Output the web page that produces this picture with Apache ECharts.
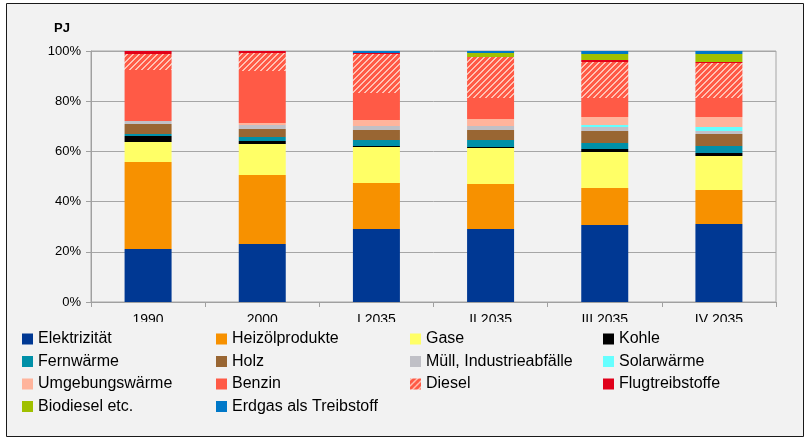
<!DOCTYPE html>
<html>
<head>
<meta charset="utf-8">
<title>Endenergie nach Energieträgern</title>
<script src="https://cdn.jsdelivr.net/npm/echarts@6/dist/echarts.min.js"></script>
<style>
  html, body { margin: 0; padding: 0; background: #ffffff; }
  #chart { width: 806px; height: 439px; }
</style>
</head>
<body>
<div id="chart"></div>
<script>
// Kategorien (Jahre / Szenarien)
const categories = ['1990', '2000', 'I 2035', 'II 2035', 'III 2035', 'IV 2035'];
const yTicks = [0, 20, 40, 60, 80, 100];

// Anteile in % je Energieträger
const elektrizitaet = [21.1, 23.1, 29.1, 29.1, 30.7, 31.1];
const heizoel = [34.7, 27.5, 18.3, 17.9, 14.7, 13.5];
const gase = [7.9, 12.3, 14.4, 14.4, 14.4, 13.6];
const kohle = [2.4, 1.2, 0.4, 0.4, 1.2, 1.2];
const fernwaerme = [0.8, 1.6, 2.3, 2.7, 2.3, 2.8];
const holz = [4.0, 3.2, 4.0, 4.0, 4.8, 4.7];
const muell = [1.2, 1.6, 1.6, 1.6, 1.6, 1.2];
const solarwaerme = [0, 0, 0, 0, 0.8, 1.6];
const umgebungswaerme = [0, 0.8, 2.4, 2.8, 3.2, 4.0];
const benzin = [20.3, 20.7, 10.8, 8.4, 7.6, 7.6];
const diesel = [6.4, 7.2, 15.5, 16.3, 14.3, 13.9];
const flugtreibstoffe = [1.2, 0.8, 0.4, 0, 0.8, 0.4];
const biodiesel = [0, 0, 0, 1.6, 2.4, 3.2];
const erdgasTreibstoff = [0, 0, 0.8, 0.8, 1.2, 1.2];

const FONT = "'Liberation Sans', Arial, sans-serif";

// schraffur für Diesel
function dieselPattern() {
  const c = document.createElement('canvas');
  c.width = 6;
  c.height = 6;
  const ctx = c.getContext('2d');
  ctx.fillStyle = '#ff5a46';
  ctx.fillRect(0, 0, 6, 6);
  ctx.fillStyle = '#ffc2b4';
  for (let x = 0; x < 6; x++) {
    for (let y = 0; y < 6; y++) {
      if ((x + y) % 6 < 2) ctx.fillRect(x, y, 1, 1);
    }
  }
  return { image: c, repeat: 'repeat' };
}

const seriesDefs = [
  { name: 'Elektrizität', data: elektrizitaet, color: '#003893' },
  { name: 'Heizölprodukte', data: heizoel, color: '#f79100' },
  { name: 'Gase', data: gase, color: '#ffff66' },
  { name: 'Kohle', data: kohle, color: '#000000' },
  { name: 'Fernwärme', data: fernwaerme, color: '#0090a8' },
  { name: 'Holz', data: holz, color: '#996633' },
  { name: 'Müll, Industrieabfälle', data: muell, color: '#c0c0c6' },
  { name: 'Solarwärme', data: solarwaerme, color: '#66ffff' },
  { name: 'Umgebungswärme', data: umgebungswaerme, color: '#ffb49c' },
  { name: 'Benzin', data: benzin, color: '#ff5a46' },
  { name: 'Diesel', data: diesel, color: dieselPattern() },
  { name: 'Flugtreibstoffe', data: flugtreibstoffe, color: '#e0001a' },
  { name: 'Biodiesel etc.', data: biodiesel, color: '#a0c000' },
  { name: 'Erdgas als Treibstoff', data: erdgasTreibstoff, color: '#0078c8' }
];

// Legendenspalten wie im Original
const legendColumns = [
  { left: 22, items: ['Elektrizität', 'Fernwärme', 'Umgebungswärme', 'Biodiesel etc.'] },
  { left: 216, items: ['Heizölprodukte', 'Holz', 'Benzin', 'Erdgas als Treibstoff'] },
  { left: 410, items: ['Gase', 'Müll, Industrieabfälle', 'Diesel'] },
  { left: 603, items: ['Kohle', 'Solarwärme', 'Flugtreibstoffe'] }
];

const chart = echarts.init(document.getElementById('chart'));

const option = {
  backgroundColor: '#ffffff',
  animation: false,
  textStyle: { fontFamily: FONT },
  graphic: [
    {
      type: 'rect',
      z: -10,
      shape: { x: 6.5, y: 3.5, width: 797, height: 433 },
      style: { fill: '#f2f2f2', stroke: '#1a1a1a', lineWidth: 1 }
    },
    {
      // legende überdeckt die achsenbeschriftung unten
      type: 'rect',
      z: 3,
      shape: { x: 7, y: 322, width: 796, height: 114 },
      style: { fill: '#f2f2f2' }
    }
  ],
  legend: legendColumns.map(col => ({
    orient: 'vertical',
    left: col.left,
    top: 331,
    padding: 0,
    itemWidth: 11,
    itemHeight: 11,
    itemGap: 6.5,
    icon: 'rect',
    selectedMode: false,
    z: 10,
    data: col.items,
    textStyle: { fontSize: 16, lineHeight: 16, color: '#000', fontFamily: FONT }
  })),
  grid: {
    left: 91,
    right: 30,
    top: 51,
    bottom: 137,
    show: true,
    borderColor: '#a6a6a6',
    borderWidth: 1,
    backgroundColor: 'transparent'
  },
  xAxis: {
    type: 'category',
    data: categories,
    axisLine: { lineStyle: { color: '#a0a0a0', width: 1 } },
    axisTick: { show: true, length: 5, lineStyle: { color: '#a0a0a0' } },
    axisLabel: { fontSize: 14, color: '#000', margin: 11 }
  },
  yAxis: {
    type: 'value',
    min: yTicks[0],
    max: yTicks[yTicks.length - 1],
    interval: 20,
    name: 'PJ',
    nameLocation: 'end',
    nameGap: 16,
    nameTextStyle: { fontSize: 13, fontWeight: 'bold', color: '#000', align: 'right', padding: [0, 21, 0, 0] },
    axisLine: { show: true, lineStyle: { color: '#a0a0a0', width: 1 } },
    axisTick: { show: true, length: 5, lineStyle: { color: '#a0a0a0' } },
    splitLine: { lineStyle: { color: '#a6a6a6', width: 1 } },
    axisLabel: { fontSize: 13, color: '#000', margin: 10, formatter: '{value}%' }
  },
  series: seriesDefs.map(s => ({
    name: s.name,
    type: 'bar',
    stack: 'total',
    barWidth: 47,
    data: s.data,
    itemStyle: { color: s.color }
  }))
};

chart.setOption(option);
</script>
</body>
</html>
